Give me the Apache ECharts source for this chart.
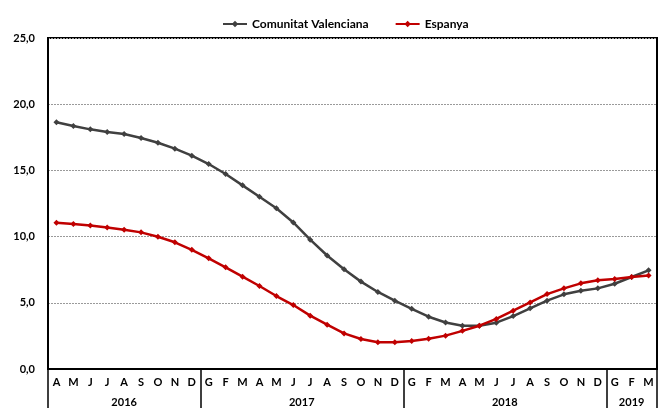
<!DOCTYPE html>
<html>
<head>
<meta charset="utf-8">
<script src="https://cdn.jsdelivr.net/npm/echarts@6/dist/echarts.min.js"></script>
<style>
html,body{margin:0;padding:0;background:#fff;}
#c{width:662px;height:408px;}
</style>
</head>
<body>
<div id="c"></div>
<script>
const months = ['A','M','J','J','A','S','O','N','D',
  'G','F','M','A','M','J','J','A','S','O','N','D',
  'G','F','M','A','M','J','J','A','S','O','N','D',
  'G','F','M'];
const years = ['2016','2017','2018','2019'];
const monthsPerYear = [9, 12, 12, 3];
const valenciana = [18.63,18.35,18.10,17.90,17.75,17.45,17.09,16.64,16.11,
  15.48,14.73,13.87,13.01,12.14,11.07,9.77,8.57,7.53,6.60,5.82,5.16,
  4.55,3.95,3.51,3.27,3.27,3.50,4.00,4.58,5.16,5.64,5.91,6.09,
  6.44,6.95,7.45];
const espanya = [11.05,10.95,10.83,10.68,10.52,10.32,9.99,9.57,9.00,
  8.36,7.68,6.97,6.27,5.51,4.83,4.03,3.35,2.69,2.27,2.02,2.02,
  2.12,2.28,2.52,2.88,3.27,3.78,4.40,5.03,5.66,6.09,6.47,6.70,
  6.80,6.95,7.07];

// year boundaries and centres derived from monthsPerYear
const bounds = [0];
const centres = [];
monthsPerYear.forEach(function(n){
  const s = bounds[bounds.length-1];
  centres.push(s + n/2);
  bounds.push(s + n);
});

const FONT = 'Lato';
const chart = echarts.init(document.getElementById('c'));
chart.setOption({
  animation: false,
  backgroundColor: '#fff',
  textStyle: {fontFamily: FONT},
  legend: {
    top: 13, left: 217,
    itemWidth: 24, itemHeight: 8, itemGap: 26,
    textStyle: {fontFamily: FONT, fontWeight: 'bold', fontSize: 12, color: '#000'},
    data: ['Comunitat Valenciana', 'Espanya']
  },
  grid: {
    left: 48, right: 5, top: 38, bottom: 39,
    show: true, borderColor: '#000', borderWidth: 2, containLabel: false
  },
  xAxis: [{
    type: 'category',
    data: months,
    boundaryGap: true,
    axisLine: {show: true, lineStyle: {color: '#000', width: 2}},
    axisTick: {show: false},
    axisLabel: {interval: 0, margin: 8, fontFamily: FONT, fontWeight: 'bold', fontSize: 11, color: '#000'}
  }, {
    type: 'value',
    position: 'bottom',
    min: 0, max: bounds[bounds.length-1],
    axisLine: {show: false},
    splitLine: {show: false},
    axisTick: {show: true, customValues: bounds, length: 39, lineStyle: {color: '#000', width: 1.5}},
    axisLabel: {
      customValues: centres, margin: 28,
      fontFamily: FONT, fontWeight: 'bold', fontSize: 11, color: '#000',
      formatter: function(v){ return years[centres.indexOf(v)] || ''; }
    }
  }],
  yAxis: {
    type: 'value',
    min: 0, max: 25, interval: 5,
    axisLine: {show: true, lineStyle: {color: '#000', width: 2}},
    axisTick: {show: false},
    splitLine: {show: true, lineStyle: {color: '#9a9a9a', type: [2, 1], width: 1}},
    axisLabel: {
      margin: 13, fontFamily: FONT, fontWeight: 'bold', fontSize: 11, color: '#000',
      formatter: function(v){ return v.toFixed(1).replace('.', ','); }
    }
  },
  series: [{
    name: 'Comunitat Valenciana',
    type: 'line',
    data: valenciana,
    symbol: 'diamond', symbolSize: 6, showSymbol: true,
    lineStyle: {color: '#404040', width: 2.5},
    itemStyle: {color: '#404040'},
    z: 3
  }, {
    name: 'Espanya',
    type: 'line',
    data: espanya,
    symbol: 'diamond', symbolSize: 6, showSymbol: true,
    lineStyle: {color: '#C00000', width: 2.5},
    itemStyle: {color: '#C00000'},
    z: 4
  }]
});
</script>
</body>
</html>
